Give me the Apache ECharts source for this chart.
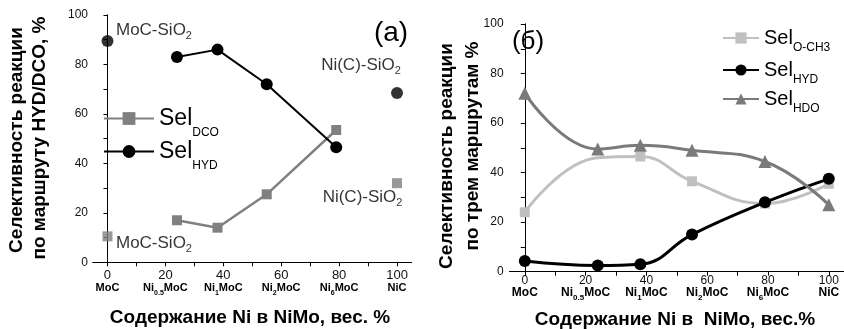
<!DOCTYPE html>
<html><head><meta charset="utf-8">
<script src="https://cdn.jsdelivr.net/npm/echarts@6/dist/echarts.min.js"></script>
<style>html,body{margin:0;padding:0;background:#fff}#c{width:844px;height:329px}</style>
</head><body><div id="c"></div><script>
// ---- tick labels ----
const xTicks = [0, 20, 40, 60, 80, 100];
const xMinor = [0, 10, 20, 30, 40, 50, 60, 70, 80, 90, 100];
const yTicks = [0, 20, 40, 60, 80, 100];
const catHead = ['MoC', 'Ni', 'Ni', 'Ni', 'Ni', 'NiC'];
const catSub = ['', '0.5', '1', '2', '6', ''];
const catTail = ['', 'MoC', 'MoC', 'MoC', 'MoC', ''];

// ---- panel (a) ----
const xA = [24, 38, 55, 79];
const hydA = [83, 86, 72, 46.5];
const dcoA = [17, 14, 27.5, 53.5];
const xRefA = [0, 100];
const hydRefA = [89.5, 68.5];
const dcoRefA = [10.5, 32];
const refNames = ['MoC-SiO', 'Ni(C)-SiO'];

// ---- panel (б) ----
const xB = [0, 24, 38, 55, 79, 100];
const och3B = [24, 46, 46.5, 36.5, 27.5, 35.5];
const och3Hidden = [false, true, false, false, false, false];
const hydB = [4.3, 2.5, 3, 15, 28, 37.5];
const hdoB = [72, 49.5, 51, 49, 44.5, 27];

const FF = 'Liberation Sans, Arial, sans-serif';
const pair = (xs, ys) => xs.map((x, i) => [x, ys[i]]);

function catFmt(v) {
  const i = xTicks.indexOf(v);
  let s = '{n|' + v + '}\n{b|' + catHead[i] + '}';
  if (catSub[i]) s += '{s|' + catSub[i] + '}{b|' + catTail[i] + '}';
  return s;
}

function xAxisPair(gi, nfs, fs, sfs, margin, nLH) {
  return [{
    gridIndex: gi, type: 'value', min: -5, max: 105, position: 'bottom',
    axisLine: {lineStyle: {color: '#000', width: 1}},
    axisTick: {show: true, inside: false, length: 4, customValues: xMinor, lineStyle: {color: '#000'}},
    axisLabel: {
      customValues: xTicks, margin: margin, formatter: catFmt, fontFamily: FF, fontSize: nfs, color: '#111',
      rich: {
        n: {fontSize: nfs, lineHeight: nLH, color: '#111', fontFamily: FF},
        b: {fontSize: fs, fontWeight: 'bold', color: '#000', verticalAlign: 'top', fontFamily: FF},
        s: {fontSize: sfs, fontWeight: 'bold', color: '#000', verticalAlign: 'top', padding: [7, 0, 0, 0], fontFamily: FF}
      }
    },
    splitLine: {show: false}
  }, {
    gridIndex: gi, type: 'value', min: -5, max: 105, position: 'top',
    axisLine: {lineStyle: {color: '#000', width: 1}},
    axisTick: {show: true, inside: true, length: 3, customValues: xMinor, lineStyle: {color: '#000'}},
    axisLabel: {show: false}, splitLine: {show: false}
  }];
}
function yAxisPair(gi, margin) {
  return [{
    gridIndex: gi, type: 'value', min: 0, max: 100, interval: 10, position: 'left',
    axisLine: {show: true, lineStyle: {color: '#000', width: 1}},
    axisTick: {show: true, inside: false, length: 4, lineStyle: {color: '#000'}},
    axisLabel: {customValues: yTicks, margin: margin, fontSize: 12, color: '#111', fontFamily: FF},
    splitLine: {show: false}
  }, {
    gridIndex: gi, type: 'value', min: 0, max: 100, interval: 10, position: 'right',
    axisLine: {show: true, lineStyle: {color: '#000', width: 1}},
    axisTick: {show: true, inside: true, length: 3, lineStyle: {color: '#000'}},
    axisLabel: {show: false}, splitLine: {show: false}
  }];
}

const subRich = (fs, sfs, pad) => ({
  m: {fontSize: fs, color: '#000', verticalAlign: 'middle', fontFamily: FF},
  s: {fontSize: sfs, color: '#000', verticalAlign: 'top', padding: [pad, 0, 0, 0], fontFamily: FF}
});
const legendNames = {
  dcoA: ['Sel', 'DCO'], hydA: ['Sel', 'HYD'],
  och3B: ['Sel', 'O-CH3'], hydB: ['Sel', 'HYD'], hdoB: ['Sel', 'HDO']
};
const legFmt = name => '{m|' + legendNames[name][0] + '}{s|' + legendNames[name][1] + '}';

function refLabel(i, off) {
  return {show: true, position: 'inside', offset: off,
    formatter: '{m|' + refNames[i] + '}{s|2}', rich: subRich(17, 11, 12)};
}

const GRAY = '#808080', LGRAY = '#c0c0c0', DGRAY = '#7a7a7a';

function legendItem(name, left, top, w, h, fs) {
  return {data: [name], left: left, top: top, padding: 0, itemWidth: w, itemHeight: h,
    formatter: legFmt, textStyle: {rich: subRich(fs, 12, fs === 23 ? 28 : 20)}};
}

const option = {
  animation: false,
  backgroundColor: '#fff',
  grid: [
    {left: 93, top: 15, width: 318.5, height: 247.3},
    {left: 509.6, top: 24, width: 337.7, height: 247.7}
  ],
  xAxis: [...xAxisPair(0, 13, 11, 7, 6, 14), ...xAxisPair(1, 12, 12, 8, 3, 12)],
  yAxis: [...yAxisPair(0, 5), ...yAxisPair(1, 6)],
  legend: [
    legendItem('dcoA', 103, 107, 50, 16, 23),
    legendItem('hydA', 103, 140, 50, 16, 23),
    legendItem('och3B', 722, 28, 36, 14, 20),
    legendItem('hydB', 722, 60, 36, 14, 20),
    legendItem('hdoB', 722, 89, 36, 14, 20)
  ],
  series: [
    {name: 'dcoA', type: 'line', xAxisIndex: 0, yAxisIndex: 0, data: pair(xA, dcoA),
     symbol: 'rect', symbolSize: 10, itemStyle: {color: GRAY}, lineStyle: {color: GRAY, width: 2.5}},
    {name: 'hydA', type: 'line', xAxisIndex: 0, yAxisIndex: 0, data: pair(xA, hydA),
     symbol: 'circle', symbolSize: 12, itemStyle: {color: '#000'}, lineStyle: {color: '#000', width: 2}},
    {name: 'dcoRefA', type: 'scatter', xAxisIndex: 0, yAxisIndex: 0,
     data: pair(xRefA, dcoRefA).map((d, i) => ({value: d, label: refLabel(i, i === 0 ? [46.5, 7] : [-34.5, 14])})),
     symbol: 'rect', symbolSize: 10, itemStyle: {color: GRAY}},
    {name: 'hydRefA', type: 'scatter', xAxisIndex: 0, yAxisIndex: 0,
     data: pair(xRefA, hydRefA).map((d, i) => ({value: d, label: refLabel(i, i === 0 ? [46.5, -11] : [-36, -28])})),
     symbol: 'circle', symbolSize: 12, itemStyle: {color: '#000'}},

    {name: 'och3B', type: 'line', xAxisIndex: 2, yAxisIndex: 2, smooth: 0.45,
     data: pair(xB, och3B).map((d, i) => och3Hidden[i] ? {value: d, symbol: 'none'} : d),
     symbol: 'rect', symbolSize: 10, itemStyle: {color: LGRAY}, lineStyle: {color: LGRAY, width: 3}},
    {name: 'hydB', type: 'line', xAxisIndex: 2, yAxisIndex: 2, data: pair(xB, hydB), smooth: 0.45,
     symbol: 'circle', symbolSize: 12, itemStyle: {color: '#000'}, lineStyle: {color: '#000', width: 3}},
    {name: 'hdoB', type: 'line', xAxisIndex: 2, yAxisIndex: 2, data: pair(xB, hdoB), smooth: 0.45,
     symbol: 'triangle', symbolSize: 13, itemStyle: {color: DGRAY}, lineStyle: {color: DGRAY, width: 3}}
  ],
  graphic: [
    {type: 'text', x: 17, y: 140, rotation: Math.PI / 2,
     style: {text: 'Селективность реакции', font: 'bold 19px ' + FF, fill: '#000', align: 'center', verticalAlign: 'middle'}},
    {type: 'text', x: 40, y: 138, rotation: Math.PI / 2,
     style: {text: 'по маршруту HYD/DCO, %', font: 'bold 19px ' + FF, fill: '#000', align: 'center', verticalAlign: 'middle'}},
    {type: 'text', x: 250, y: 318,
     style: {text: 'Содержание Ni в NiMo, вес. %', font: 'bold 19px ' + FF, fill: '#000', align: 'center', verticalAlign: 'middle'}},
    {type: 'text', x: 391, y: 33,
     style: {text: '(a)', font: '28px ' + FF, fill: '#000', align: 'center', verticalAlign: 'middle'}},

    {type: 'text', x: 447, y: 156, rotation: Math.PI / 2,
     style: {text: 'Селективность реакции', font: 'bold 19px ' + FF, fill: '#000', align: 'center', verticalAlign: 'middle'}},
    {type: 'text', x: 473, y: 146, rotation: Math.PI / 2,
     style: {text: 'по трем маршрутам %', font: 'bold 19px ' + FF, fill: '#000', align: 'center', verticalAlign: 'middle'}},
    {type: 'text', x: 675, y: 320,
     style: {text: 'Содержание Ni в  NiMo, вес.%', font: 'bold 19px ' + FF, fill: '#000', align: 'center', verticalAlign: 'middle'}},
    {type: 'text', x: 528, y: 42,
     style: {text: '(б)', font: '26px ' + FF, fill: '#000', align: 'center', verticalAlign: 'middle'}}
  ]
};
const chart = echarts.init(document.getElementById('c'), null, {renderer: 'canvas'});
chart.setOption(option);
</script></body></html>
